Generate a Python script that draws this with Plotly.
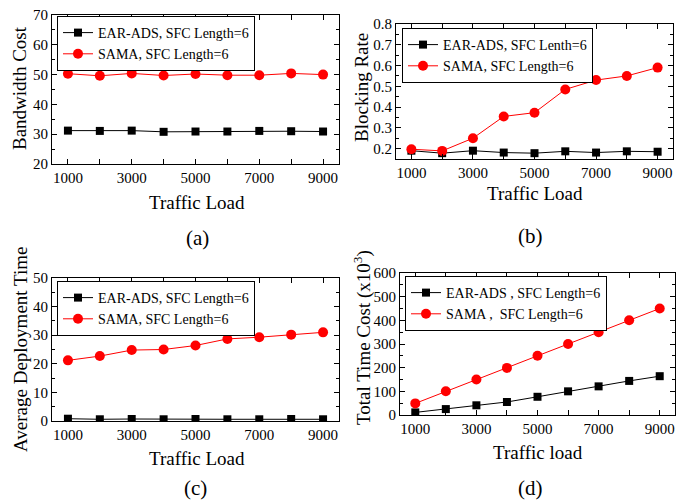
import plotly.graph_objects as go

W, H = 697, 500
loads = [1000, 2000, 3000, 4000, 5000, 6000, 7000, 8000, 9000]
x_tick_vals = [1000, 3000, 5000, 7000, 9000]

bw_ear = [31.2, 31.1, 31.2, 30.8, 30.9, 30.9, 31.1, 31.0, 30.9]
bw_sama = [50.3, 49.6, 50.4, 49.7, 50.2, 49.8, 49.8, 50.4, 50.0]

br_ear = [0.19, 0.178, 0.19, 0.181, 0.178, 0.187, 0.181, 0.187, 0.185]
br_sama = [0.197, 0.189, 0.25, 0.355, 0.373, 0.485, 0.53, 0.55, 0.59]

dt_ear = [0.8, 0.6, 0.7, 0.6, 0.7, 0.6, 0.6, 0.7, 0.6]
dt_sama = [21.2, 22.7, 24.8, 25.0, 26.4, 28.7, 29.3, 30.2, 31.0]

tc_ear = [11, 25, 41, 55, 77, 100, 121, 144, 164]
tc_sama = [49, 100, 150, 199, 250, 300, 350, 400, 450]

FONT = "Liberation Serif"

def px(x):
    return x / W

def py(y):
    return 1 - y / H

fig = go.Figure()

panels = [
    ("", bw_ear, bw_sama, "EAR-ADS, SFC Length=6", "SAMA, SFC Length=6", "legend",
     (52, 339), (15, 164), [20, 70], 10, 5),
    ("2", br_ear, br_sama, "EAR-ADS, SFC Lenth=6", "SAMA, SFC Length=6", "legend2",
     (396, 673), (24, 159), [0.15, 0.8], 0.1, 0.05),
    ("3", dt_ear, dt_sama, "EAR-ADS, SFC Length=6", "SAMA, SFC Length=6", "legend3",
     (52, 339), (278, 421), [0, 50], 10, 5),
    ("4", tc_ear, tc_sama, "EAR-ADS , SFC Length=6", "SAMA ,\u00a0 SFC Length=6", "legend4",
     (400, 675), (273, 415), [0, 600], 100, 50),
]

legend_pos = {
    "legend": (57, 16),
    "legend2": (402, 28),
    "legend3": (57, 281),
    "legend4": (405, 276),
}

layout = {}
for suf, ear, sama, n1, n2, leg, dx, dy, yr, dt, mn in panels:
    fig.add_trace(go.Scatter(
        x=loads, y=ear, name=n1, mode="lines+markers",
        line=dict(color="black", width=1),
        marker=dict(symbol="square", size=8, color="black"),
        xaxis="x" + suf, yaxis="y" + suf, legend=leg,
    ))
    fig.add_trace(go.Scatter(
        x=loads, y=sama, name=n2, mode="lines+markers",
        line=dict(color="#ff0000", width=1),
        marker=dict(symbol="circle", size=10, color="#ff0000"),
        xaxis="x" + suf, yaxis="y" + suf, legend=leg,
    ))
    common = dict(
        showline=True, linecolor="black", linewidth=1, mirror="allticks",
        ticks="inside", ticklen=5, tickwidth=1, tickcolor="black",
        showgrid=False, zeroline=False, automargin=False,
        ticklabeloverflow="allow",
        tickfont=dict(family=FONT, size=15, color="black"),
    )
    layout["xaxis" + suf] = dict(
        common, domain=[px(dx[0]), px(dx[1])], range=[500, 9500],
        tickmode="array", tickvals=x_tick_vals, anchor="y" + suf,
        minor=dict(tickmode="linear", tick0=0, dtick=1000, ticks="inside", ticklen=5,
                   tickcolor="black", showgrid=False),
    )
    layout["yaxis" + suf] = dict(
        common, domain=[py(dy[1]), py(dy[0])], range=yr, dtick=dt,
        tick0=0, tickmode="linear", anchor="x" + suf,
        minor=dict(tickmode="linear", tick0=0, dtick=mn, ticks="inside", ticklen=3,
                   tickcolor="black", showgrid=False),
    )
    lx, ly = legend_pos[leg]
    layout[leg] = dict(
        x=px(lx), y=py(ly), xanchor="left", yanchor="top",
        xref="paper", yref="paper",
        bordercolor="black", borderwidth=1, bgcolor="white",
        font=dict(family=FONT, size=14, color="black"),
        tracegroupgap=0, itemwidth=30,
    )

ann = []
def add_text(text, x, y, size, angle=0):
    ann.append(dict(text=text, x=px(x), y=py(y), xref="paper", yref="paper",
                    showarrow=False, xanchor="center", yanchor="middle",
                    textangle=angle, font=dict(family=FONT, size=size, color="black")))

add_text("Bandwidth Cost", 20, 88, 19, -90)
add_text("Blocking Rate", 362, 88, 19, -90)
add_text("Average Deployment Time", 20, 350, 19, -90)
add_text("Total Time Cost (x10<sup>3</sup>)", 362, 338, 19, -90)
add_text("Traffic Load", 197, 202, 19)
add_text("Traffic Load", 535, 193, 19)
add_text("Traffic Load", 197, 458, 19)
add_text("Traffic load", 538, 452, 19)
add_text("(a)", 197, 238, 21)
add_text("(b)", 530, 236, 21)
add_text("(c)", 195, 488, 21)
add_text("(d)", 530, 488, 21)

fig.update_layout(
    template="none",
    width=W, height=H, margin=dict(l=0, r=0, t=0, b=0, autoexpand=False),
    paper_bgcolor="white", plot_bgcolor="white",
    font=dict(family=FONT, color="black"),
    hovermode=False,
    annotations=ann, **layout,
)

fig.write_html(
    "out.html",
    config={"displayModeBar": False, "staticPlot": True},
    post_script="document.body.style.margin='0px';document.body.style.padding='0px';",
)
